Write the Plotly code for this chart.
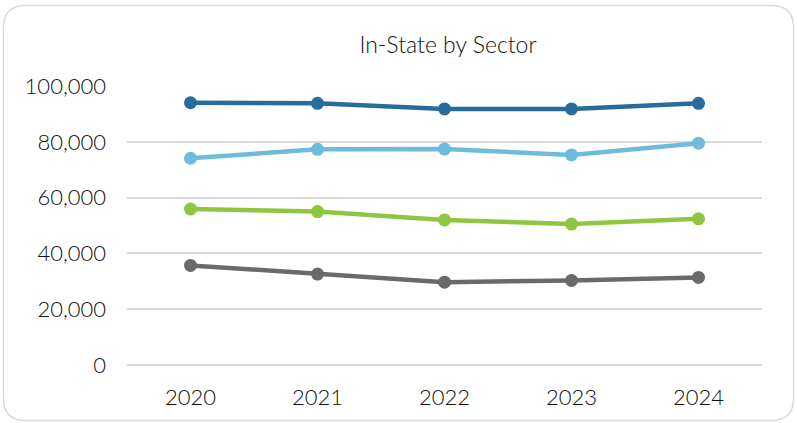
import plotly.graph_objects as go

years = ["2020", "2021", "2022", "2023", "2024"]
series_names = ["Sector A", "Sector B", "Sector C", "Sector D"]
sector_a = [94000, 93800, 91800, 91800, 93800]
sector_b = [74100, 77300, 77400, 75300, 79500]
sector_c = [55900, 55000, 52000, 50500, 52400]
sector_d = [35700, 32600, 29700, 30300, 31400]
colors = ["#276D9B", "#6DBCDC", "#8DC63F", "#6A6A6A"]
y_ticks = [0, 20000, 40000, 60000, 80000, 100000]

W, H = 797, 423
L, R, T, B = 127, 35, 86, 58
pw, ph = W - L - R, H - T - B

FONT = "Lato, Open Sans, sans-serif"

fig = go.Figure()
for name, vals, col in zip(series_names, [sector_a, sector_b, sector_c, sector_d], colors):
    fig.add_trace(go.Scatter(
        x=years, y=vals, name=name, mode="lines+markers",
        line=dict(color=col, width=4.5),
        marker=dict(color=col, size=13),
        hoverinfo="skip",
    ))

def px(x):
    return (x - L) / pw

def py(y):
    return (H - B - y) / ph

x0, x1, y0, y1, r = 3.5, 793.5, 5.5, 420.5, 22
path = (
    f"M {px(x0 + r)} {py(y0)} L {px(x1 - r)} {py(y0)} "
    f"Q {px(x1)} {py(y0)} {px(x1)} {py(y0 + r)} "
    f"L {px(x1)} {py(y1 - r)} Q {px(x1)} {py(y1)} {px(x1 - r)} {py(y1)} "
    f"L {px(x0 + r)} {py(y1)} Q {px(x0)} {py(y1)} {px(x0)} {py(y1 - r)} "
    f"L {px(x0)} {py(y0 + r)} Q {px(x0)} {py(y0)} {px(x0 + r)} {py(y0)} Z"
)
fig.add_shape(type="path", path=path, xref="paper", yref="paper",
              line=dict(color="#D9D9D9", width=1.5), layer="below")

tf = dict(family=FONT, size=22, color="#111111", weight=300)

fig.update_layout(
    width=W, height=H,
    margin=dict(l=L, r=R, t=T, b=B),
    paper_bgcolor="white", plot_bgcolor="white",
    showlegend=False,
    title=dict(text="In-State by Sector", x=(448 / W), xanchor="center",
               y=1 - 45 / H, yanchor="middle",
               font=dict(family=FONT, size=23, color="#111111", weight=300)),
    font=dict(family=FONT, color="#111111"),
    xaxis=dict(type="category", range=[-0.5, len(years) - 0.5],
               showgrid=False, showline=False, zeroline=False,
               ticks="", tickfont=tf, ticklabelstandoff=17),
    yaxis=dict(range=[0, 100000], tickvals=y_ticks,
               ticktext=[f"{v:,}" for v in y_ticks],
               showgrid=True, gridcolor="#D9D9D9", gridwidth=1.5,
               zeroline=True, zerolinecolor="#D9D9D9", zerolinewidth=1.5,
               showline=False, ticks="",
               tickfont=tf, ticklabelstandoff=20),
)

fig.write_html("out.html", config={"displayModeBar": False},
               post_script="document.body.style.margin='0';document.body.style.padding='0';")
